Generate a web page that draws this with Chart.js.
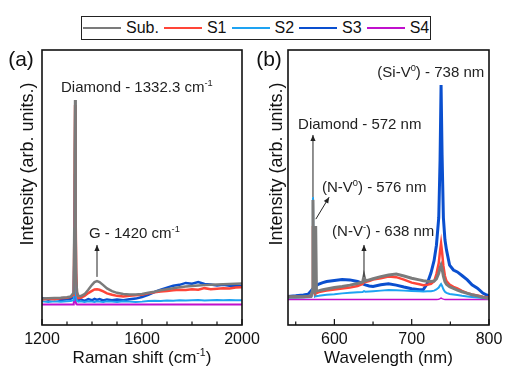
<!DOCTYPE html>
<html><head><meta charset="utf-8">
<script src="https://cdn.jsdelivr.net/npm/chart.js@4.4.1/dist/chart.umd.min.js"></script>
<style>
html,body{margin:0;padding:0;background:#fff;}
body{width:520px;height:381px;position:relative;overflow:hidden;font-family:"Liberation Sans",Arial,sans-serif;}
canvas{position:absolute;top:0;}
#cA{left:0;}
#cB{left:250px;}
#legend{position:absolute;left:81px;top:16px;width:350px;height:24px;box-sizing:border-box;border:1px solid #222;display:flex;align-items:center;padding-left:1px;background:#fff;}
.item{display:flex;align-items:center;margin-right:5px;}
.swatch{width:38px;height:2px;margin-right:5px;}
.lbl{font-size:16px;color:#111;line-height:16px;}
</style>
</head><body>
<div id="legend"></div>
<canvas id="cA" width="270" height="381"></canvas>
<canvas id="cB" width="270" height="381"></canvas>
<script>
// ---------- Data: panel (a) Raman ----------
const ramanShift = [1200,1225,1250,1275,1300,1315,1324,1327,1329,1330.5,1332.3,1334,1335.5,1337,1340,1345,1355,1370,1385,1400,1410,1420,1430,1445,1460,1480,1500,1525,1550,1575,1600,1625,1650,1675,1700,1725,1750,1775,1800,1825,1850,1875,1900,1925,1950,1975,2000];
const ramanSub = [9.6,9.7,9.8,9.9,10.1,10.4,11.5,16,35,62,81.8,62,33,17,12,10.6,10.5,11.2,12.8,14.6,15.6,16.0,15.6,14.5,13.3,12.3,11.7,11.3,11.1,11.1,11.3,11.7,12.1,12.6,13.0,13.4,13.7,14.0,14.2,14.4,14.5,14.6,14.7,14.8,14.9,15.0,15.1];
const ramanS1 = [9.3,9.5,9.4,9.7,9.9,10.2,11.0,14,30,56,80,66,38,19,11.5,9.8,9.9,10.6,11.6,12.4,12.9,13.0,12.8,12.2,11.5,11.0,10.6,10.4,10.6,10.8,11.0,11.5,11.9,12.2,12.4,12.6,12.8,12.7,13.0,12.8,13.4,13.0,13.2,13.4,13.3,13.6,13.7];
const ramanS2 = [8.6,8.4,8.6,8.5,8.6,8.7,9.0,10.5,16,26,32,25,14,10,8.8,8.5,8.6,8.4,8.6,8.5,8.4,8.6,8.5,8.4,8.6,8.5,8.4,8.6,8.5,8.4,8.5,8.7,8.8,8.7,8.9,8.8,9.0,8.9,9.0,9.1,8.9,9.0,9.1,9.0,9.1,9.0,9.0];
const ramanS3 = [9.8,9.2,9.6,9.1,9.4,9.5,10.0,12,22,40,55,42,22,12,9.6,9.0,9.3,8.8,9.4,9.0,9.5,9.1,9.4,8.9,9.3,9.0,9.3,9.0,9.4,9.6,10.2,11.0,12.0,12.8,13.6,14.3,14.6,15.3,15.0,15.6,14.9,14.7,14.4,14.6,14.3,14.4,14.2];
const ramanS4 = [7.5,7.5,7.5,7.5,7.5,7.5,7.5,8.0,9.5,10.5,11,10,8.5,7.7,7.5,7.5,7.5,7.5,7.5,7.5,7.5,7.5,7.5,7.5,7.5,7.5,7.5,7.5,7.5,7.5,7.5,7.5,7.5,7.5,7.5,7.5,7.5,7.5,7.5,7.5,7.5,7.5,7.5,7.5,7.5,7.5,7.5];

// ---------- Data: panel (b) PL ----------
const wavelength = [540,550,560,566,570,571.3,572.3,573.3,574.8,575.8,576.8,580,585,590,600,610,620,630,636.5,638.3,640,645,650,660,670,680,690,700,710,715,720,725,729,732,735,736.7,738,739.3,741,743,745,749,754,759,765,772,778,785,792,797,800];
const plSub = [10.3,10.3,10.4,10.5,10.6,12,45.5,12.5,12.0,36,12.4,12.5,12.8,13.1,13.6,14.0,14.5,15.1,15.6,17.8,16.0,16.4,16.8,17.6,18.2,18.5,17.8,17.0,16.4,16.1,15.9,15.8,16.0,16.8,18.8,20.8,21.8,20.5,17.8,15.8,14.8,13.9,13.3,12.7,12.1,11.5,11.0,10.6,10.1,9.8,9.6];
const plS1 = [10.2,10.3,10.2,10.4,10.5,12,36,12,11.3,11.8,11.6,12.0,12.3,12.5,12.9,13.3,13.6,14.2,14.9,15.6,15.6,16.0,16.5,17.0,17.6,17.4,16.5,15.4,14.8,14.5,14.6,15.0,15.9,18.5,22.5,27,29.7,26.5,21.5,17.8,16.0,14.7,13.9,13.3,12.4,11.6,11.1,10.7,10.3,10.1,10.0];
const plS2 = [9.9,9.9,10.0,10.1,10.2,13,46.5,13,10.4,10.6,10.5,10.6,10.8,11.0,11.2,11.5,11.7,11.9,12.0,12.3,12.1,12.2,12.3,12.5,12.7,12.6,12.5,12.4,12.3,12.2,12.3,12.3,12.5,12.9,13.6,14.4,14.9,14.2,13.0,12.1,11.7,11.3,11.1,10.9,10.6,10.4,10.2,10.0,9.8,9.7,9.7];
const plS3 = [10.4,10.6,10.9,11.2,12.4,12.9,13.2,13.5,13.9,14.1,14.4,14.9,15.4,15.8,16.2,16.5,16.4,15.8,15.1,14.8,14.6,14.2,14.0,14.6,15.0,14.5,13.8,13.2,12.8,12.9,15.0,19.0,23.5,29,39,60,87.3,62,39,31,27.3,21.8,20.0,19.3,18.0,16.4,14.6,13.4,11.6,10.9,10.6];
const plS4 = [9.3,9.3,9.3,9.3,9.3,9.3,9.3,9.3,9.3,9.3,9.3,9.3,9.3,9.3,9.3,9.3,9.3,9.3,9.3,9.3,9.3,9.3,9.3,9.3,9.3,9.3,9.3,9.3,9.3,9.3,9.3,9.3,9.3,9.3,9.4,9.6,9.8,9.6,9.4,9.3,9.3,9.3,9.3,9.3,9.3,9.3,9.3,9.3,9.3,9.3,9.3];

// ---------- Series / ticks ----------
const seriesNames = ['Sub.','S1','S2','S3','S4'];
const seriesColors = ['#7b7b7b','#ff4538','#1ea3f2','#0a4fcf','#c010cc'];
const ramanMajorTicks = [1200,1600,2000];
const ramanMinorTicks = [1300,1400,1500,1700,1800,1900];
const wlMajorTicks = [600,700,800];
const wlMinorTicks = [550,650,750];

const FONT = '"Liberation Sans", Arial, sans-serif';
Chart.defaults.font.family = FONT;

// legend (HTML)
const legendEl = document.getElementById('legend');
seriesNames.forEach((n,i)=>{
  const it = document.createElement('div'); it.className='item';
  const sw = document.createElement('div'); sw.className='swatch'; sw.style.background=seriesColors[i];
  const lb = document.createElement('span'); lb.className='lbl'; lb.textContent=n;
  it.appendChild(sw); it.appendChild(lb); legendEl.appendChild(it);
});

function pts(xs, ys){ return xs.map((x,i)=>({x:x, y:ys[i]})); }

function richWidth(ctx, parts, size){
  let w=0;
  parts.forEach(p=>{ const fs = p[1]?size*0.62:size; ctx.font = fs+'px '+FONT; w += ctx.measureText(p[0]).width; });
  return w;
}
function drawRich(ctx, parts, x, y, size, align){
  let cx = x;
  if(align==='center') cx = x - richWidth(ctx,parts,size)/2;
  ctx.textBaseline='alphabetic'; ctx.textAlign='left';
  parts.forEach(p=>{
    const fs = p[1]?size*0.62:size;
    ctx.font = fs+'px '+FONT;
    ctx.fillText(p[0], cx, p[1] ? y - size*0.42 : y);
    cx += ctx.measureText(p[0]).width;
  });
}
function arrow(ctx, x1,y1,x2,y2){
  ctx.beginPath(); ctx.moveTo(x1,y1); ctx.lineTo(x2,y2); ctx.stroke();
  const a = Math.atan2(y2-y1, x2-x1), L=6, W=2.6;
  ctx.beginPath();
  ctx.moveTo(x2,y2);
  ctx.lineTo(x2 - L*Math.cos(a) + W*Math.sin(a), y2 - L*Math.sin(a) - W*Math.cos(a));
  ctx.lineTo(x2 - L*Math.cos(a) - W*Math.sin(a), y2 - L*Math.sin(a) + W*Math.cos(a));
  ctx.closePath(); ctx.fill();
}

const decorPlugin = {
  id:'decor',
  afterDraw(chart, args, o){
    const ctx = chart.ctx, a = chart.chartArea, xs = chart.scales.x, ys = chart.scales.y;
    ctx.save();
    // frame
    ctx.strokeStyle='#111'; ctx.lineWidth=1.6;
    ctx.strokeRect(a.left, a.top, a.right-a.left, a.bottom-a.top);
    // ticks (inward)
    ctx.lineWidth=1.2;
    o.major.forEach(v=>{ const p=xs.getPixelForValue(v); ctx.beginPath(); ctx.moveTo(p,a.bottom); ctx.lineTo(p,a.bottom-6); ctx.stroke(); });
    o.minor.forEach(v=>{ const p=xs.getPixelForValue(v); ctx.beginPath(); ctx.moveTo(p,a.bottom); ctx.lineTo(p,a.bottom-3.5); ctx.stroke(); });
    ctx.fillStyle='#111';
    // x title
    drawRich(ctx, o.xTitle, (a.left+a.right)/2, 363, 17, 'center');
    // y title
    ctx.save();
    ctx.translate(a.left - o.yTitleDx, 164);
    ctx.rotate(-Math.PI/2);
    ctx.font = '18px '+FONT; ctx.textAlign='center'; ctx.textBaseline='middle';
    ctx.fillText('Intensity (arb. units.)', 0, 0);
    ctx.restore();
    // panel label
    ctx.font='21px '+FONT; ctx.textAlign='center'; ctx.textBaseline='alphabetic';
    ctx.fillText(o.panel, a.left - o.panelDx, 66);
    // annotations
    ctx.fillStyle='#222'; ctx.strokeStyle='#222'; ctx.lineWidth=1;
    o.notes.forEach(n=>{ drawRich(ctx, n.parts, xs.getPixelForValue(n.x), ys.getPixelForValue(n.y), 15, 'left'); });
    o.arrows.forEach(r=>{ arrow(ctx, xs.getPixelForValue(r[0]), ys.getPixelForValue(r[1]), xs.getPixelForValue(r[2]), ys.getPixelForValue(r[3])); });
    ctx.restore();
  }
};

function makeChart(id, cfg){
  return new Chart(document.getElementById(id), {
    type:'line',
    data:{ datasets: cfg.series.map((ys,i)=>({
      label: seriesNames[i], data: pts(cfg.xs, ys), borderColor: seriesColors[i],
      backgroundColor: seriesColors[i], borderWidth: cfg.widths[i], pointRadius:0, tension:0, fill:false
    }))},
    options:{
      responsive:false, animation:false, devicePixelRatio:1,
      layout:{padding: cfg.padding},
      plugins:{ legend:{display:false}, tooltip:{enabled:false}, decor: cfg.decor },
      scales:{
        x:{ type:'linear', min:cfg.min, max:cfg.max,
            grid:{display:false}, border:{display:false},
            afterBuildTicks: s=>{ s.ticks = cfg.major.map(v=>({value:v})); },
            afterFit: s=>{ s.height = 56; },
            ticks:{ font:{size:16}, color:'#111', padding:-3, maxRotation:0, autoSkip:false, callback:v=>String(v) } },
        y:{ display:false, min:0, max:100 }
      }
    },
    plugins:[decorPlugin]
  });
}

makeChart('cA', {
  xs: ramanShift, series:[ramanSub, ramanS1, ramanS2, ramanS3, ramanS4],
  widths:[2.5,2.5,2,2.5,2], min:1200, max:2000, major: ramanMajorTicks,
  padding:{left:42, right:28, top:50, bottom:0},
  decor:{ major: ramanMajorTicks, minor: ramanMinorTicks,
    xTitle:[['Raman shift (cm',0],['-1',1],[')',0]],
    yTitleDx:14, panel:'(a)', panelDx:21,
    notes:[
      {parts:[['Diamond - 1332.3 cm',0],['-1',1]], x:1276, y:84.6},
      {parts:[['G - 1420 cm',0],['-1',1]], x:1388, y:31.5}
    ],
    arrows:[[1420,17.5,1420,29.1]]
  }
});

makeChart('cB', {
  xs: wavelength, series:[plSub, plS1, plS2, plS3, plS4],
  widths:[3,2.5,2,3,1.5], min:540, max:800, major: wlMajorTicks,
  padding:{left:38, right:31, top:50, bottom:0},
  decor:{ major: wlMajorTicks, minor: wlMinorTicks,
    xTitle:[['Wavelength (nm)',0]],
    yTitleDx:10.5, panel:'(b)', panelDx:19,
    notes:[
      {parts:[['(Si-V',0],['0',1],[') - 738 nm',0]], x:655.6, y:90.2},
      {parts:[['Diamond - 572 nm',0]], x:553, y:71.1},
      {parts:[['(N-V',0],['0',1],[') - 576 nm',0]], x:584, y:48.2},
      {parts:[['(N-V',0],['-',1],[') - 638 nm',0]], x:597, y:32.2}
    ],
    arrows:[[572.3,46.5,572.3,69.1],[576,38.5,593.2,46.5],[638.3,17.5,638.3,29.1]]
  }
});
</script>
</body></html>
